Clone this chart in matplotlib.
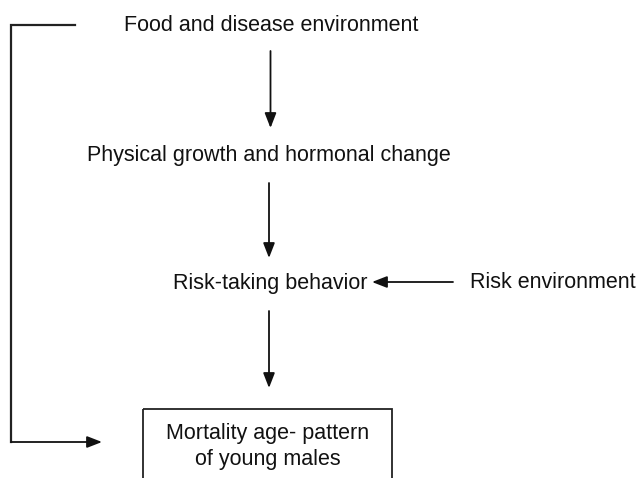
import matplotlib
matplotlib.use("Agg")
import matplotlib.pyplot as plt
from matplotlib.patches import Rectangle

labels = ["Food and disease environment", "Physical growth and hormonal change",
          "Risk-taking behavior", "Risk environment",
          "Mortality age- pattern", "of young males"]

fig = plt.figure(figsize=(6.42, 4.78), dpi=100)
ax = fig.add_axes([0, 0, 1, 1])
ax.set_xlim(0, 642)
ax.set_ylim(478, 0)
ax.axis("off")

fs = 15.5
font = dict(family=["Liberation Sans", "DejaVu Sans"], fontsize=fs, color="#111111")
ax.text(271.5, 25, labels[0], ha="center", va="center", **font)
ax.text(269, 155, labels[1], ha="center", va="center", **font)
ax.text(270, 283, labels[2], ha="center", va="center", **font)
ax.text(553, 283, labels[3], ha="center", va="center", **font)
ax.text(268, 434, labels[4], ha="center", va="center", **font)
ax.text(268, 459, labels[5], ha="center", va="center", **font)

ap = dict(arrowstyle="-|>,head_length=0.9,head_width=0.35", color="#111111", lw=1.3,
          shrinkA=0, shrinkB=0)
ax.annotate("", xy=(270.5, 128), xytext=(270.5, 51), arrowprops=ap)
ax.annotate("", xy=(269, 258), xytext=(269, 183), arrowprops=ap)
ax.annotate("", xy=(269, 388), xytext=(269, 311), arrowprops=ap)
ax.annotate("", xy=(372, 282), xytext=(453, 282), arrowprops=ap)

ax.plot([75, 11, 11], [24.5, 24.5, 442], color="#222222", lw=1.6, solid_joinstyle="miter")
ax.annotate("", xy=(102, 442), xytext=(11, 442), arrowprops=ap)

ax.add_patch(Rectangle((143, 409), 249, 80, fill=False, edgecolor="#222222", lw=1.3))

fig.savefig("out.png", dpi=100)
